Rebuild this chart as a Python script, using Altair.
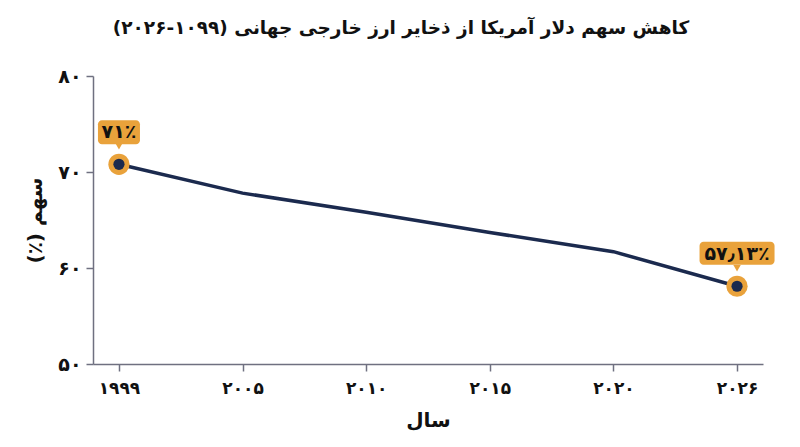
import altair as alt
import pandas as pd

years = ["۱۹۹۹", "۲۰۰۵", "۲۰۱۰", "۲۰۱۵", "۲۰۲۰", "۲۰۲۶"]
shares = [70.8, 67.8, 65.8, 63.7, 61.7, 58.1]

hl_years = ["۱۹۹۹", "۲۰۲۶"]
hl_shares = [70.8, 58.1]
hl_labels = ["۷۱٪", "۵۷٫۱۳٪"]

y_ticks = [50, 60, 70, 80]

title_text = "کاهش سهم دلار آمریکا از ذخایر ارز خارجی جهانی (۱۰۹۹-۲۰۲۶)"
y_title = "سهم (٪)"
x_title = "سال"

RLE, PDF = "\u202B", "\u202C"

df = pd.DataFrame({"year": years, "share": shares})
hl = pd.DataFrame({"year": hl_years, "share": hl_shares, "label": hl_labels})

FONT = "DejaVu Sans"
NAVY = "#1b2a4e"
ORANGE = "#e9a23b"
AXIS = "#6f7080"

pdigits = "۰۱۲۳۴۵۶۷۸۹"
expr = "datum.label"
for d in range(10):
    expr = f"replace({expr}, /{d}/g, '{pdigits[d]}')"

x_enc = alt.X(
    "year:O",
    sort=years,
    scale=alt.Scale(type="point", padding=0.21),
    axis=alt.Axis(title=x_title, labelAngle=0, labelPadding=9, titlePadding=14,
                  labelFontSize=17),
)
y_enc = alt.Y(
    "share:Q",
    scale=alt.Scale(domain=[50, 80], nice=False, zero=False),
    axis=alt.Axis(title=RLE + y_title + PDF, values=y_ticks, labelExpr=expr,
                  labelPadding=5, titlePadding=12, labelFontSize=19),
)

base = alt.Chart(df).encode(x=x_enc, y=y_enc)
line = base.mark_line(color=NAVY, strokeWidth=3.5)

hb = alt.Chart(hl).encode(x=x_enc, y=y_enc)
ring = hb.mark_circle(size=450, color=ORANGE, opacity=1)
dot = hb.mark_circle(size=125, color=NAVY, opacity=1)
box1 = hb.transform_filter(alt.datum.year == hl_years[0]).mark_rect(
    width=42, height=24, yOffset=-32, cornerRadius=4, color=ORANGE)
box2 = hb.transform_filter(alt.datum.year == hl_years[1]).mark_rect(
    width=75, height=23, yOffset=-33, cornerRadius=4, color=ORANGE)
tri = hb.mark_point(shape="triangle-down", filled=True, size=55, yOffset=-18,
                    color=ORANGE, opacity=1)
txt = hb.mark_text(yOffset=-32, font=FONT, fontSize=19, fontWeight="bold",
                   color="#111111").encode(text="label:N")

chart = (
    alt.layer(line, ring, dot, box1, box2, tri, txt)
    .properties(
        width=670,
        height=288,
        padding={"left": 85, "top": 68, "right": 29, "bottom": 75},
        autosize=alt.AutoSizeParams(type="none"),
        title=alt.TitleParams(RLE + title_text + PDF, font=FONT, fontSize=18.5,
                              fontWeight="bold", color="#111111", anchor="middle",
                              offset=30, dx=-27),
    )
    .configure_view(stroke=None)
    .configure_axis(
        grid=False,
        domainColor=AXIS,
        domainWidth=1.5,
        tickColor=AXIS,
        tickWidth=1.5,
        tickSize=7,
        labelFont=FONT,
        labelFontWeight="bold",
        labelColor="#111111",
        titleFont=FONT,
        titleFontSize=20,
        titleFontWeight="bold",
        titleColor="#111111",
    )
)

chart.save("out.html", embed_options={"renderer": "svg", "actions": False})
